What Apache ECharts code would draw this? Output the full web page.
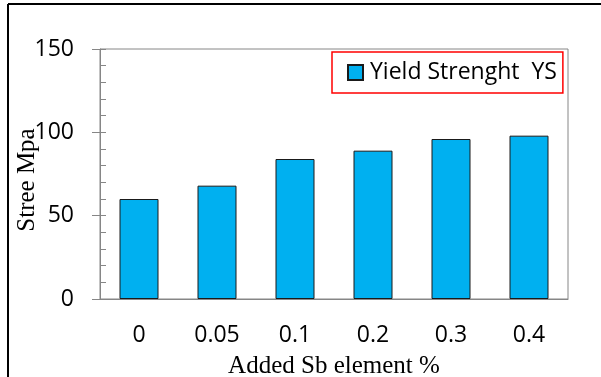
<!DOCTYPE html>
<html>
<head>
<meta charset="utf-8">
<script src="https://cdn.jsdelivr.net/npm/echarts@6/dist/echarts.min.js"></script>
<style>
html,body{margin:0;padding:0;background:#fff;}
#chart{width:601px;height:377px;}
</style>
</head>
<body>
<div id="chart"></div>
<script>
const categories = ['0', '0.05', '0.1', '0.2', '0.3', '0.4'];
const yieldStrength = [60, 68, 84, 89, 96, 98];
const seriesName = 'Yield Strenght  YS';
const xAxisTitle = 'Added Sb element %';
const yAxisTitle = 'Stree Mpa';

const axisGray = '#868686';
const chart = echarts.init(document.getElementById('chart'), null, {renderer: 'canvas'});
chart.setOption({
  animation: false,
  backgroundColor: '#fff',
  grid: {left: 100, top: 49, width: 468, height: 250, containLabel: false, outerBoundsMode: 'none',
         show: true, borderColor: axisGray, borderWidth: 1, backgroundColor: 'transparent'},
  legend: {
    left: 332, top: 52,
    data: [seriesName],
    borderColor: '#ff0000', borderWidth: 1.5,
    padding: [9, 6, 9, 15],
    itemWidth: 15, itemHeight: 15, itemGap: 0,
    icon: 'rect',
    textStyle: {fontFamily: 'Open Sans', fontSize: 23, color: '#000', padding: [0, 0, 0, 2]}
  },
  xAxis: [{
    type: 'category', data: categories,
    axisLine: {lineStyle: {color: axisGray, width: 1}},
    axisTick: {alignWithLabel: true, length: 7, lineStyle: {color: axisGray}},
    axisLabel: {fontFamily: 'Open Sans', fontSize: 23, color: '#000', margin: 25},
    name: xAxisTitle, nameLocation: 'middle', nameGap: 55, nameMoveOverlap: false,
    nameTextStyle: {fontFamily: 'Liberation Serif', fontSize: 25, color: '#000'}
  }],
  yAxis: [{
    type: 'value', min: 0, max: 150, interval: 50,
    axisLine: {show: true, lineStyle: {color: axisGray, width: 1}},
    axisTick: {show: true, length: 8, lineStyle: {color: axisGray}},
    splitLine: {show: false},
    axisLabel: {fontFamily: 'Open Sans', fontSize: 23, color: '#000', margin: 26},
    name: yAxisTitle, nameLocation: 'middle', nameGap: 60, nameRotate: 90, nameMoveOverlap: false,
    nameTextStyle: {fontFamily: 'Liberation Serif', fontSize: 25, color: '#000', padding: [0, 12, 0, 0]}
  }, {
    type: 'value', min: 0, max: 150, interval: 10, position: 'left', offset: 0,
    axisLine: {show: false},
    axisTick: {show: true, inside: true, length: 6, lineStyle: {color: axisGray}},
    axisLabel: {show: false},
    splitLine: {show: false}
  }],
  graphic: [
    {type: 'line', shape: {x1: 8, y1: 4, x2: 601, y2: 4}, style: {stroke: '#000', lineWidth: 2}},
    {type: 'line', shape: {x1: 8, y1: 4, x2: 8, y2: 377}, style: {stroke: '#000', lineWidth: 2}}
  ],
  series: [{
    name: seriesName, type: 'bar', data: yieldStrength, barWidth: '50%',
    itemStyle: {color: '#00b0f0', borderColor: '#1a1a1a', borderWidth: 1}
  }]
});
</script>
</body>
</html>
